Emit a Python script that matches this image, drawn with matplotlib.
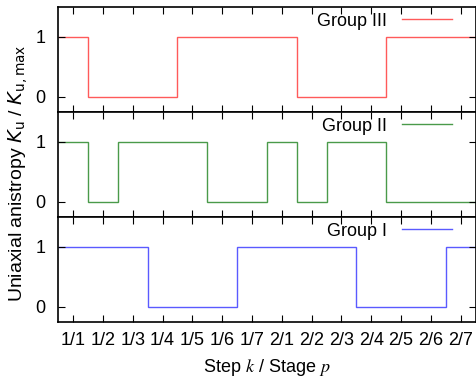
import numpy as np
import matplotlib
matplotlib.use("Agg")
import matplotlib.pyplot as plt

plt.rcParams['font.family'] = ['Liberation Sans', 'DejaVu Sans']

# step labels k/p
tick_labels = ["1/1", "1/2", "1/3", "1/4", "1/5", "1/6", "1/7",
               "2/1", "2/2", "2/3", "2/4", "2/5", "2/6", "2/7"]

# normalised anisotropy per step
group3 = [1, 0, 0, 0, 1, 1, 1, 1, 0, 0, 0, 1, 1, 1]
group2 = [1, 0, 1, 1, 1, 0, 0, 1, 0, 1, 1, 0, 0, 0]
group1 = [1, 1, 1, 0, 0, 0, 1, 1, 1, 1, 0, 0, 0, 1]

groups = [("Group III", group3, "#ff5a5a"),
          ("Group II", group2, "#4a9a4a"),
          ("Group I", group1, "#5a5aff")]

fs = 13

fig, axes = plt.subplots(3, 1, sharex=True, figsize=(4.77, 3.85), dpi=100)
fig.subplots_adjust(left=0.122, right=0.997, top=0.982, bottom=0.164, hspace=0)

x = np.arange(1, len(tick_labels) + 1)
edges = np.arange(0.5, len(tick_labels) + 1.0)

for ax, (name, vals, col) in zip(axes, groups):
    ax.stairs(vals, edges, baseline=None, color=col, lw=1.0, label=name)
    ax.set_ylim(-0.25, 1.5)
    ax.set_xlim(0.5, len(tick_labels) + 0.5)
    ax.set_yticks([0, 1])
    ax.set_xticks(x)
    ax.tick_params(direction='in', top=True, right=True, length=5,
                   labelsize=fs, pad=9, width=0.8)
    for s in ax.spines.values():
        s.set_linewidth(1.2)
    ax.legend(loc='upper right', frameon=False, markerfirst=False,
              fontsize=fs, handlelength=2.8, borderaxespad=0.1,
              handletextpad=0.8, bbox_to_anchor=(0.966, 1.03))

axes[-1].set_xticklabels(tick_labels)
axes[-1].tick_params(axis='x', pad=7)
axes[-1].set_xlabel("Step $k$ / Stage $p$", fontsize=fs, math_fontfamily='stix',
                    labelpad=6)
fig.text(0.038, 0.55, r"Uniaxial anistropy $K_\mathrm{u}$ / $K_\mathrm{u,max}$",
         rotation=90, va='center', ha='center', fontsize=14)

fig.savefig("out.png", dpi=100)
